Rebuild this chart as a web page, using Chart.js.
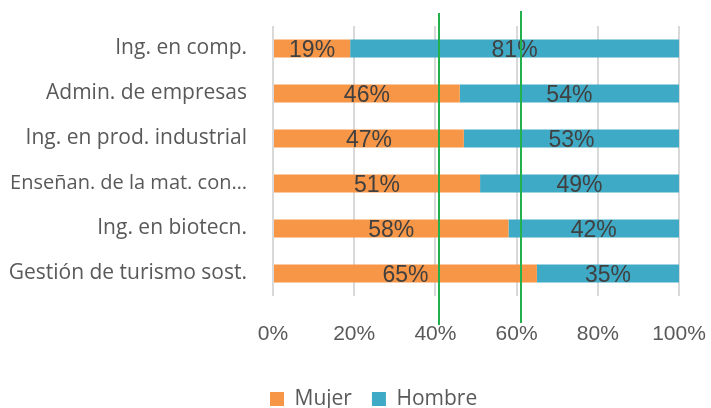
<!DOCTYPE html>
<html>
<head>
<meta charset="utf-8">
<script src="https://cdn.jsdelivr.net/npm/chart.js@4"></script>
<style>
  html, body { margin: 0; padding: 0; background: #fff; }
  #wrap { width: 711px; height: 408px; position: relative; }
</style>
</head>
<body>
<div id="wrap"><canvas id="chart"></canvas></div>
<script>
// data
const categories = ['Ing. en comp.', 'Admin. de empresas', 'Ing. en prod. industrial', 'Enseñan. de la mat. con…', 'Ing. en biotecn.', 'Gestión de turismo sost.'];
const mujer = [19, 46, 47, 51, 58, 65];
const hombre = [81, 54, 53, 49, 42, 35];
const xTicks = [0, 20, 40, 60, 80, 100];
const markerLines = [41, 61];

const ORANGE = '#F79646';
const BLUE = '#3FAAC6';

// percentage text in the middle of each segment
const barLabels = {
    id: 'barLabels',
    afterDatasetsDraw(chart) {
        const ctx = chart.ctx;
        ctx.save();
        ctx.font = "23px 'Liberation Sans', Arial, sans-serif";
        ctx.fillStyle = '#404040';
        ctx.textAlign = 'center';
        ctx.textBaseline = 'middle';
        chart.data.datasets.forEach((ds, i) => {
            chart.getDatasetMeta(i).data.forEach((bar, j) => {
                const cx = (bar.x + bar.base) / 2;
                ctx.fillText(ds.data[j] + '%', cx, bar.y + 2);
            });
        });
        ctx.restore();
    }
};

// the two green vertical marker lines
const greenLines = {
    id: 'greenLines',
    afterDraw(chart) {
        const ctx = chart.ctx, x = chart.scales.x;
        ctx.save();
        ctx.strokeStyle = '#22B14C';
        ctx.lineWidth = 2;
        markerLines.forEach((v, i) => {
            const px = Math.round(x.getPixelForValue(v));
            ctx.beginPath();
            ctx.moveTo(px, i === 0 ? 13 : 11);
            ctx.lineTo(px, i === 0 ? 325 : 323);
            ctx.stroke();
        });
        ctx.restore();
    }
};

// legend sits under the bars, not centred on the canvas
const legendPlace = {
    id: 'legendPlace',
    afterLayout(chart) {
        const lg = chart.legend;
        const pad = lg.options.labels.padding;
        const w = lg.right - lg.left;
        lg.left = 270 - pad;
        lg.right = lg.left + w;
        const h = lg.bottom - lg.top;
        lg.top = 401 - pad - 12.6;
        lg.bottom = lg.top + h;
    }
};

new Chart(document.getElementById('chart'), {
    type: 'bar',
    data: {
        labels: categories,
        datasets: [
            { label: 'Mujer', data: mujer, backgroundColor: ORANGE, barPercentage: 0.8, categoryPercentage: 0.5 },
            { label: 'Hombre', data: hombre, backgroundColor: BLUE, barPercentage: 0.8, categoryPercentage: 0.5 }
        ]
    },
    options: {
        indexAxis: 'y',
        responsive: true,
        maintainAspectRatio: false,
        animation: false,
        layout: { padding: { top: 26, right: 32, left: 0, bottom: 0 } },
        plugins: {
            legend: {
                position: 'bottom',
                align: 'start',
                labels: {
                    boxWidth: 14, boxHeight: 14, padding: 20,
                    color: '#595959',
                    font: { family: "'Open Sans', sans-serif", size: 21 }
                }
            },
            tooltip: { enabled: false }
        },
        scales: {
            x: {
                stacked: true, min: 0, max: 100,
                afterBuildTicks(scale) { scale.ticks = xTicks.map(v => ({ value: v })); },
                afterFit(scale) { scale.height = 61; },
                grid: { color: '#D9D9D9', lineWidth: 2, drawTicks: true, tickLength: 23, tickColor: 'rgba(0,0,0,0)' },
                border: { display: false },
                ticks: {
                    padding: 3,
                    color: '#595959',
                    font: { family: "'Liberation Sans', Arial, sans-serif", size: 21 },
                    callback: v => v + '%'
                }
            },
            y: {
                stacked: true,
                afterFit(scale) { scale.width = 273; },
                grid: { drawOnChartArea: false, drawTicks: true, tickLength: 23, tickColor: 'rgba(0,0,0,0)' },
                border: { display: false },
                ticks: {
                    padding: 3,
                    color: '#595959',
                    font: c => ({ family: "'Open Sans', sans-serif", size: c.index === 3 ? 20 : 21 })
                }
            }
        }
    },
    plugins: [barLabels, greenLines, legendPlace]
});
</script>
</body>
</html>
